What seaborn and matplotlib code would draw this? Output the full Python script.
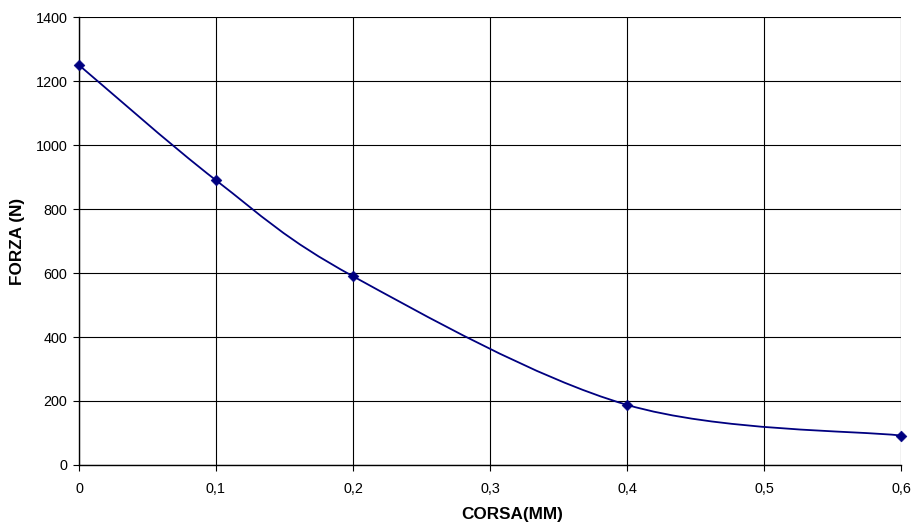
import matplotlib
matplotlib.use("Agg")
import matplotlib.pyplot as plt
from matplotlib.path import Path
from matplotlib.patches import PathPatch
from matplotlib.ticker import FuncFormatter, MultipleLocator
import seaborn as sns
import pandas as pd

# data
corsa = [0.0, 0.1, 0.2, 0.4, 0.6]
forza = [1250, 890, 590, 188, 92]

df = pd.DataFrame({"corsa": corsa, "forza": forza})

sns.set_theme(style="white")
plt.rcParams["font.family"] = ["Liberation Sans", "DejaVu Sans"]

fig = plt.figure(figsize=(9.16, 5.26), dpi=100)
ax = fig.add_axes([0.0862, 0.116, 0.8974, 0.8515])

# Excel-style smoothed line (Bezier through the points, tension 1/6)
pts = list(zip(corsa, forza))
verts = [pts[0]]
codes = [Path.MOVETO]
n = len(pts)
for i in range(n - 1):
    p0 = pts[max(i - 1, 0)]
    p1 = pts[i]
    p2 = pts[i + 1]
    p3 = pts[min(i + 2, n - 1)]
    c1 = (p1[0] + (p2[0] - p0[0]) / 6, p1[1] + (p2[1] - p0[1]) / 6)
    c2 = (p2[0] - (p3[0] - p1[0]) / 6, p2[1] - (p3[1] - p1[1]) / 6)
    verts += [c1, c2, p2]
    codes += [Path.CURVE4] * 3
ax.add_patch(PathPatch(Path(verts, codes), facecolor="none", edgecolor="#000080",
                       linewidth=1.3, zorder=3, clip_on=False))

sns.scatterplot(data=df, x="corsa", y="forza", marker="D", s=30, color="#000080",
                edgecolor="#000080", ax=ax, zorder=4, clip_on=False)

ax.set_xlim(0, 0.6)
ax.set_ylim(0, 1400)
ax.xaxis.set_major_locator(MultipleLocator(0.1))
ax.yaxis.set_major_locator(MultipleLocator(200))
ax.xaxis.set_major_formatter(FuncFormatter(lambda v, p: "0" if abs(v) < 1e-9 else f"{v:.1f}".replace(".", ",")))
ax.yaxis.set_major_formatter(FuncFormatter(lambda v, p: f"{int(round(v))}"))

ax.grid(True, color="black", linewidth=0.8)
for s in ["top", "right"]:
    ax.spines[s].set_visible(False)
for s in ["left", "bottom"]:
    ax.spines[s].set_color("black")
    ax.spines[s].set_linewidth(1.0)

ax.tick_params(axis="both", direction="out", length=4.3, width=0.8, color="black",
               labelsize=10.4, labelcolor="black", bottom=True, left=True)
ax.tick_params(axis="x", pad=8)
ax.tick_params(axis="y", pad=4)

ax.set_xlabel("CORSA(MM)", fontsize=12.3, fontweight="bold", color="black", va="top")
ax.xaxis.set_label_coords(0.527, -0.093)
ax.set_ylabel("FORZA (N)", fontsize=12.3, fontweight="bold", color="black", va="center")
ax.yaxis.set_label_coords(-0.075, 0.5)

fig.savefig("out.png", dpi=100, facecolor="white")
